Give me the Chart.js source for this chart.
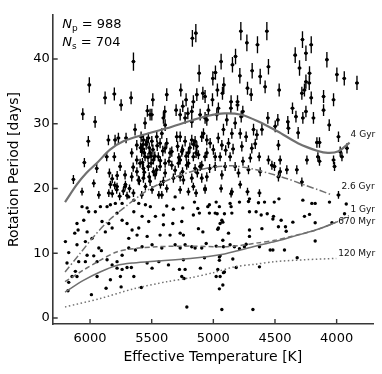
<!DOCTYPE html>
<html lang="en">
<head>
<meta charset="UTF-8">
<title>Rotation Period vs Effective Temperature</title>
<script src="https://cdn.jsdelivr.net/npm/chart.js"></script>
<style>
    html, body { margin: 0; padding: 0; background: #fff; }
    #wrap { width: 382px; height: 374px; }
</style>
</head>
<body>
<div id="wrap"><canvas id="chart" width="382" height="374"></canvas></div>
<script>
// tick values
const xTicks = [6000, 5500, 5000, 4500, 4000];
const yTicks = [0, 10, 20, 30, 40];

// counts shown in the corner
const nP = 988;
const nS = 704;

// teff uncertainty (K) drawn as the small horizontal bar
const teffErr = 15;

// stars with period uncertainty: [Teff, Prot, err]
const errPts = [
    [5648,39.6,1.4],[6006,36.0,1.2],[5878,34.0,1.0],[5803,34.6,1.0],[5748,32.9,0.9],[5667,34.0,1.0],
    [6059,31.5,0.9],[5959,30.3,0.9],[6014,27.3,0.8],[5491,33.7,1.0],[5513,31.4,0.9],[5535,32.0,0.9],
    [6046,24.0,0.7],[6135,21.4,0.7],[5851,27.5,0.8],[5797,27.5,0.8],[5770,27.8,0.8],[5708,27.8,0.8],
    [5635,29.1,0.9],[5586,28.0,0.8],[5865,24.9,0.7],[5803,24.9,0.7],[5946,23.1,0.7],[5756,23.4,0.7],
    [5843,22.4,0.7],[5716,22.1,0.7],[5662,25.5,0.7],[5621,24.4,0.7],
    [5590,26.3,0.8],[5575,24.0,0.7],[5560,22.5,0.7],[5545,26.8,0.8],[5530,24.8,0.7],[5520,21.8,0.7],
    [5505,23.9,0.7],[5490,26.0,0.8],[5475,25.0,0.7],[5460,22.9,0.7],[5455,26.6,0.8],[5600,21.2,0.7],
    [5170,43.2,1.3],[5142,44.0,1.4],[4777,44.3,1.4],[4728,42.5,1.3],[4642,42.2,1.3],[4937,39.6,1.2],
    [4845,39.1,1.2],[4820,40.4,1.2],[5115,37.8,1.3],[5004,37.0,1.1],[4983,37.9,1.1],[4915,36.0,1.2],
    [4785,37.4,1.2],[4685,38.2,1.2],[4620,37.3,1.2],
    [4723,35.5,1.0],[4693,34.5,1.0],[5378,34.5,1.0],[5264,35.2,1.0],[5221,33.7,1.0],[5162,33.4,1.0],
    [5134,34.5,1.0],[5085,34.7,1.0],[5067,34.2,1.0],[5007,33.7,1.0],[4967,35.2,1.0],[4926,34.7,1.0],
    [4856,33.4,1.0],[4804,33.4,1.0],[5394,31.9,0.9],[5302,32.1,0.9],[5248,32.7,0.9],[5207,31.6,0.9],
    [5175,31.9,0.9],[5040,32.1,0.9],[4972,31.4,0.9],[4959,32.4,0.9],[4858,32.4,0.9],[4804,32.9,0.9],
    [4761,31.9,0.9],[4774,31.1,0.9],[4674,29.1,0.9],[4647,28.3,0.8],[4606,29.1,0.9],[4628,24.9,0.7],
    [4688,26.2,0.8],[4769,26.5,0.8],[4877,27.0,0.8],[4931,26.7,0.8],[4945,24.9,0.7],[4864,24.9,0.7],
    [4904,23.4,0.7],[4985,24.9,0.7],[5053,25.5,0.8],[5026,27.0,0.8],[5080,28.5,0.8],
    [5418,28.5,0.8],[5378,27.0,0.8],[5337,25.7,0.8],[5269,28.0,0.8],[5229,27.3,0.8],[5175,27.5,0.8],
    [5134,26.5,0.8],[5094,28.0,0.8],[5269,24.4,0.7],[5202,23.9,0.7],[5107,23.4,0.7],[4985,23.4,0.7],
    [4823,23.4,0.7],[4715,22.9,0.7],[4620,22.6,0.7],[5269,21.8,0.7],[5391,22.4,0.7],[5053,21.8,0.7],
    [4931,22.1,0.7],[4796,22.4,0.7],[5053,30.6,0.9],[4891,30.6,0.9],[4823,30.1,0.9],[4918,29.1,0.9],
    [4850,28.5,0.8],[4782,28.5,0.8],[4734,28.0,0.8],
    [4566,44.3,1.4],[4277,43.0,1.3],[4206,42.2,1.3],[4336,40.6,1.2],[4249,40.9,1.2],[4301,38.6,1.2],
    [4220,37.8,1.1],[4079,39.9,1.2],[4553,38.8,1.2],[3998,37.6,1.1],[3938,37.0,1.1],[3835,36.3,1.1],
    [4249,36.5,1.1],[4222,36.3,1.1],[4282,34.7,1.0],[4261,35.2,1.0],[4206,34.0,1.0],[4466,35.2,1.0],
    [4580,35.7,1.0],[4106,34.2,1.0],[4025,33.7,1.0],[4106,32.1,0.9],[4358,32.4,0.9],[4330,31.1,0.9],
    [4249,31.9,0.9],[4274,30.9,0.9],[4188,30.9,0.9],[4060,29.8,0.9],[4558,30.9,0.9],[4477,30.6,0.9],
    [4396,30.3,0.9],[4391,29.3,0.9],[4498,29.6,0.9],[4312,28.6,0.9],[3985,28.0,0.8],[4472,26.7,0.8],
    [4160,27.1,0.8],[4139,27.1,0.8],[3971,25.7,0.8],[3957,24.9,0.7],[3916,26.2,0.8],[4152,24.9,0.7],
    [4139,24.2,0.7],[4241,24.4,0.7],[4025,24.4,0.7],[4017,23.4,0.7],[4458,24.4,0.7],[4553,24.4,0.7],
    [4525,23.6,0.7],[4504,23.4,0.7],[4458,22.6,0.7],[4404,22.9,0.7],[4323,22.9,0.7],[4472,21.8,0.7],
    [4282,21.0,0.7],
    [5499,31.4,0.9],[5405,30.9,0.9],[5391,29.8,0.9],[5269,31.4,0.9],[5229,30.9,0.9],[5175,30.3,0.9],
    [5107,31.4,0.9],[5067,30.9,0.9],[5554,30.1,0.9],[5621,26.7,0.8],[5567,27.5,0.8],[5527,27.8,0.8],
    [5499,27.3,0.8],[5459,28.0,0.8],[5432,27.0,0.8],[5391,26.2,0.8],[5351,25.5,0.8],[5297,28.0,0.8],
    [5148,27.3,0.8],[5053,27.5,0.8],[5256,25.7,0.8],[5202,25.5,0.8],[5162,24.9,0.7],[5121,25.2,0.7],
    [5067,24.9,0.7],[5581,25.7,0.8],[5554,24.9,0.7],[5513,25.5,0.7],[5486,24.4,0.7],[5446,24.9,0.7],
    [5594,23.9,0.7],[5567,23.1,0.7],[5527,23.4,0.7],[5486,22.6,0.7],[5432,23.4,0.7],[5391,23.9,0.7],
    [5337,23.6,0.7],[5283,23.9,0.7],[5216,23.6,0.7],[5148,23.1,0.7],[5094,23.6,0.7],[5662,21.8,0.7],
    [5608,21.3,0.7],[5567,21.6,0.7],[5513,21.1,0.7],[5405,21.1,0.7],[5324,21.6,0.7],[5243,21.3,0.7],
    [5175,21.6,0.7],[5094,21.6,0.7],[5784,19.8,0.6],[5716,20.3,0.6],[5378,20.0,0.6],[5269,19.8,0.6],
    [5162,20.3,0.6],[5067,20.0,0.6],[5648,19.3,0.6],[5581,19.0,0.6],[5472,22.1,0.7],
    [5929,19.0,0.6],[6065,19.5,0.6],[5970,20.8,0.6],[5835,20.6,0.6],[5781,20.3,0.6],[5713,20.6,0.6],
    [5848,19.3,0.6],[5551,20.3,0.6],[5497,19.8,0.6],[5442,19.0,0.6],[5429,20.6,0.6],[5418,19.0,0.6],
    [5202,19.5,0.6],[5140,19.3,0.6],[5067,19.8,0.6],[4850,19.5,0.6],[4782,20.6,0.6],[4723,19.5,0.6],
    [4626,19.3,0.6],[4937,20.0,0.6],[4856,19.2,0.6],[3985,19.0,0.6],
    [5580,26.0,0.8],[5560,25.5,0.8],[5540,27.2,0.8],[5520,26.3,0.8],[5505,25.0,0.7],[5570,26.8,0.8],
    [5290,26.5,0.8],[5250,26.0,0.8],[5220,25.0,0.7],[5190,26.3,0.8],[5160,26.8,0.8],[5140,25.5,0.8],
    [5280,24.8,0.7],[5820,19.2,0.6],[5800,20.5,0.6],[5760,18.8,0.6],[5730,19.6,0.6],[5700,18.9,0.6],
    [5680,20.0,0.6],[5820,21.5,0.7],[5780,22.0,0.7],[5620,22.6,0.7],[5650,23.3,0.7],[5430,24.3,0.7],
    [5410,25.8,0.8],[5360,24.2,0.7],[5310,22.8,0.7],[5250,22.6,0.7],[5130,22.4,0.7],[5030,23.1,0.7],
    [5000,26.0,0.8],[4960,27.8,0.8],[4900,25.9,0.8],[4840,26.1,0.8],[4760,24.2,0.7],[4700,24.7,0.7],
    [4660,26.9,0.8]
];

// stars drawn as plain dots: [Teff, Prot]
const dotPts = [
    [4707,18.4],[4585,17.9],[4468,18.4],[4274,18.2],[4174,17.7],[4058,17.9],[3922,17.6],[5153,17.9],
    [5126,16.9],[5045,17.2],[4977,17.9],[4969,16.1],[4910,16.1],[4856,17.2],[4788,17.9],[4707,16.4],
    [4653,16.4],[4612,15.9],[4563,16.1],[4517,15.3],[4450,15.1],[4355,14.8],[4261,15.7],[4174,14.7],
    [3936,16.1],[5121,13.8],[4964,13.7],[4923,14.8],[4707,13.6],[4606,13.8],[4472,14.1],[4409,13.4],
    [4415,14.1],[4923,12.0],[5058,11.5],[4829,11.0],[4788,10.7],[4748,11.0],[4626,11.0],[4539,10.5],
    [4517,10.5],[4423,10.5],[4174,11.9],[5072,9.3],[4951,9.4],[4951,8.9],[4842,9.1],[5105,7.7],
    [4964,7.5],[4910,7.1],[4815,7.8],[4626,7.9],[4320,9.3],[4977,6.4],[4923,5.1],[4951,4.5],
    [4931,1.3],[4679,1.3],
    [4506,17.9],[4201,17.7],[4512,15.7],[4220,16.0],[4038,14.7],
    [5215,1.7],[5256,6.4],[5237,6.1],[5275,7.5],[5229,7.5],[5364,8.2],[5243,9.0],[5418,10.8],
    [5310,11.3],[5269,10.8],[5229,11.3],[5432,12.8],[5351,12.8],[5269,13.1],[5243,12.8],[5405,14.4],
    [5329,14.6],[5256,14.9],[5405,15.9],[5324,16.8],[5248,17.0],[5378,17.3],[5310,18.7],
    [4945,6.4],[4918,7.0],[4945,9.6],[5175,11.0],[5148,10.8],[5094,10.8],[4977,11.1],[4918,11.0],
    [4864,11.3],[4734,11.4],[4707,12.6],[4959,13.9],[4877,13.1],[5085,13.3],[4931,15.1],[4945,14.6],
    [5162,15.9],[5113,16.2],[5032,16.2],[4985,16.2],[4850,16.2],[5032,17.5],[4951,17.2],[4864,17.7],
    [4715,18.0],[4634,17.8],
    [6179,4.2],[5989,3.6],[5870,4.6],[5748,4.8],[5584,4.7],[6173,5.5],[6146,6.4],[6119,7.2],
    [5943,6.4],[5781,7.7],[5740,7.5],[5700,7.8],[5665,7.8],[5645,6.4],[5754,6.4],[5835,5.9],
    [6106,6.4],[6187,8.5],[6092,8.7],[6038,8.7],[6024,9.7],[5970,9.6],[5943,8.7],[5929,10.8],
    [5908,10.4],[5862,9.0],[5821,8.2],[5781,8.7],[5740,9.7],[5686,10.8],[5632,10.5],[5578,11.0],
    [5497,11.3],[5537,8.5],[5497,7.7],[5442,8.7],[6200,11.8],[6173,10.1],[6106,11.3],[6124,13.1],
    [6097,13.6],[6038,11.8],[5984,12.3],[6024,13.3],[6106,14.6],[6051,15.1],[6011,16.4],[6065,17.2],
    [6024,17.0],[5957,16.4],[5916,17.2],[5862,17.2],[5835,17.5],[5795,17.7],[5781,16.2],[5903,14.9],
    [5848,14.6],[5821,13.9],[5876,13.3],[5740,15.1],[5700,14.6],[5659,13.6],[5605,13.9],[5619,12.8],
    [5537,12.6],[5686,12.3],[5524,14.9],[5470,15.7],[5645,16.4],[5578,15.7],[5511,17.2],[5740,17.7],
    [5645,18.2],[5605,17.7],[5551,17.5],[5686,18.7]
];

// gyrochronology model curves: [Teff, Prot]
const gyr4 = [[6203,17.9],[6108,20.6],[6030,22.4],[5946,23.9],[5838,26.0],[5730,27.3],[5567,28.3],
    [5378,29.3],[5180,30.5],[5050,31.2],[4910,31.6],[4774,31.4],[4639,30.4],[4477,28.8],[4314,27.0],
    [4152,25.8],[4071,25.5],[3990,25.7],[3895,27.1]];
const gyr26 = [[6203,7.1],[6080,10.0],[5960,12.8],[5840,15.2],[5700,17.4],[5560,19.4],[5460,20.5],
    [5320,21.7],[5180,22.6],[5000,23.3],[4850,23.5],[4700,23.1],[4558,22.4],[4400,21.5],[4269,20.6],
    [4150,19.8],[4038,19.0]];
const gyr1 = [[6203,5.6],[6054,7.4],[5919,8.9],[5784,10.2],[5648,10.7],[5459,11.0],[5188,11.1],
    [4910,11.0],[4780,11.2],[4639,11.6],[4500,12.0],[4369,12.6],[4260,13.1],[4152,13.7],[4003,14.8],
    [3900,15.8]];
const myr670 = [[6203,4.0],[6054,5.8],[5919,7.1],[5784,8.1],[5648,8.5],[5459,8.8],[5188,9.2],
    [4910,9.9],[4780,10.5],[4639,11.2],[4500,11.8],[4369,12.5],[4260,13.1],[4152,13.7],[4003,14.8]];
const myr120 = [[6203,1.7],[5919,3.0],[5648,4.5],[5378,5.6],[5188,6.2],[5000,7.0],[4829,7.9],
    [4660,8.3],[4504,8.7],[4250,9.0],[4003,9.2]];

const curveLabels = ['4 Gyr', '2.6 Gyr', '1 Gyr', '670 Myr', '120 Myr'];
// pixel offset of each label from the end of its curve
const labelOffsets = [[1, -8], [9.5, -8], [1.5, -6], [2, -0.5], [2, -4.5]];

const FONT = '"DejaVu Sans", sans-serif';
const AXIS = '#383838';
const CURVE = '#707070';

const toXY = arr => arr.map(p => ({ x: p[0], y: p[1] }));

function curve(label, pts, width, dash) {
    return {
        label: label, data: toXY(pts), showLine: true, borderColor: CURVE,
        borderWidth: width, borderDash: dash, pointRadius: 0, tension: 0.3,
        fill: false, order: 0
    };
}

const decor = {
    id: 'decor',
    beforeDatasetsDraw(chart) {
        const { ctx, chartArea, scales: { x, y } } = chart;
        ctx.save();
        ctx.beginPath();
        ctx.rect(chartArea.left, chartArea.top, chartArea.right - chartArea.left, chartArea.bottom - chartArea.top);
        ctx.clip();
        ctx.strokeStyle = '#000';
        ctx.lineWidth = 1.35;
        ctx.beginPath();
        errPts.forEach(p => {
            const px = x.getPixelForValue(p[0]);
            const py = y.getPixelForValue(p[1]);
            ctx.moveTo(px, y.getPixelForValue(p[1] - p[2]));
            ctx.lineTo(px, y.getPixelForValue(p[1] + p[2]));
            ctx.moveTo(x.getPixelForValue(p[0] + teffErr), py);
            ctx.lineTo(x.getPixelForValue(p[0] - teffErr), py);
        });
        ctx.stroke();
        ctx.restore();
    },
    afterDraw(chart) {
        const { ctx, chartArea, scales: { x, y } } = chart;
        ctx.save();

        // inward ticks
        ctx.strokeStyle = AXIS;
        ctx.lineWidth = 1.4;
        ctx.beginPath();
        xTicks.forEach(v => {
            const px = x.getPixelForValue(v);
            ctx.moveTo(px, chartArea.bottom);
            ctx.lineTo(px, chartArea.bottom - 5);
        });
        yTicks.forEach(v => {
            const py = y.getPixelForValue(v);
            ctx.moveTo(chartArea.left, py);
            ctx.lineTo(chartArea.left + 5, py);
        });
        ctx.stroke();

        // curve labels
        const curves = [gyr4, gyr26, gyr1, myr670, myr120];
        ctx.fillStyle = '#111';
        ctx.font = '9px ' + FONT;
        ctx.textAlign = 'left';
        ctx.textBaseline = 'middle';
        curves.forEach((c, i) => {
            const last = c[c.length - 1];
            const px = x.getPixelForValue(last[0]) + labelOffsets[i][0];
            const py = y.getPixelForValue(last[1]) + labelOffsets[i][1];
            ctx.fillText(curveLabels[i], px, py);
        });

        // N_p / N_s
        ctx.textBaseline = 'alphabetic';
        ctx.fillStyle = '#000';
        [['p', nP, 27.5], ['s', nS, 45.5]].forEach(r => {
            let cx = chartArea.left + 9.5;
            ctx.font = 'italic 13px ' + FONT;
            ctx.fillText('N', cx, r[2]);
            cx += ctx.measureText('N').width;
            ctx.font = '9px ' + FONT;
            ctx.fillText(r[0], cx, r[2] + 3);
            cx += ctx.measureText(r[0]).width;
            ctx.font = '13px ' + FONT;
            ctx.fillText(' = ' + r[1], cx, r[2]);
        });
        ctx.restore();
    }
};

new Chart(document.getElementById('chart'), {
    type: 'scatter',
    data: {
        datasets: [
            curve('4 Gyr', gyr4, 2.2, []),
            curve('2.6 Gyr', gyr26, 1.5, [7, 2.5, 1.5, 2.5]),
            curve('1 Gyr', gyr1, 1.5, [5, 3]),
            curve('670 Myr', myr670, 1.5, []),
            curve('120 Myr', myr120, 1.5, [1.5, 2.5]),
            { label: 'err', data: toXY(errPts), pointRadius: 1.8, pointBackgroundColor: '#000', pointBorderWidth: 0, order: 2 },
            { label: 'dots', data: toXY(dotPts), pointRadius: 1.7, pointBackgroundColor: '#000', pointBorderWidth: 0, order: 2 }
        ]
    },
    options: {
        responsive: false,
        animation: false,
        layout: { padding: { top: 15, right: 9, left: 0, bottom: 0 } },
        plugins: { legend: { display: false }, tooltip: { enabled: false } },
        scales: {
            x: {
                type: 'linear', reverse: true, min: 3705, max: 6303,
                afterBuildTicks: s => { s.ticks = xTicks.map(v => ({ value: v })); },
                afterFit: s => { s.height = 50; },
                grid: { display: false, drawTicks: false },
                border: { display: true, color: AXIS, width: 1.6 },
                ticks: { color: '#000', font: { family: FONT, size: 13 }, padding: 7, maxRotation: 0, callback: v => String(v) },
                title: { display: true, text: 'Effective Temperature [K]', color: '#000', font: { family: FONT, size: 14 }, padding: { top: 0, bottom: 8.5 } }
            },
            y: {
                type: 'linear', min: -0.93, max: 46.8,
                afterBuildTicks: s => { s.ticks = yTicks.map(v => ({ value: v })); },
                afterFit: s => { s.width = 52.7; },
                grid: { display: false, drawTicks: false },
                border: { display: true, color: AXIS, width: 1.6 },
                ticks: { color: '#000', font: { family: FONT, size: 13 }, padding: 3, callback: v => String(v) },
                title: { display: true, text: 'Rotation Period [days]', color: '#000', font: { family: FONT, size: 14 }, padding: { top: 5.5, bottom: 0 } }
            }
        }
    },
    plugins: [decor]
});
</script>
</body>
</html>
